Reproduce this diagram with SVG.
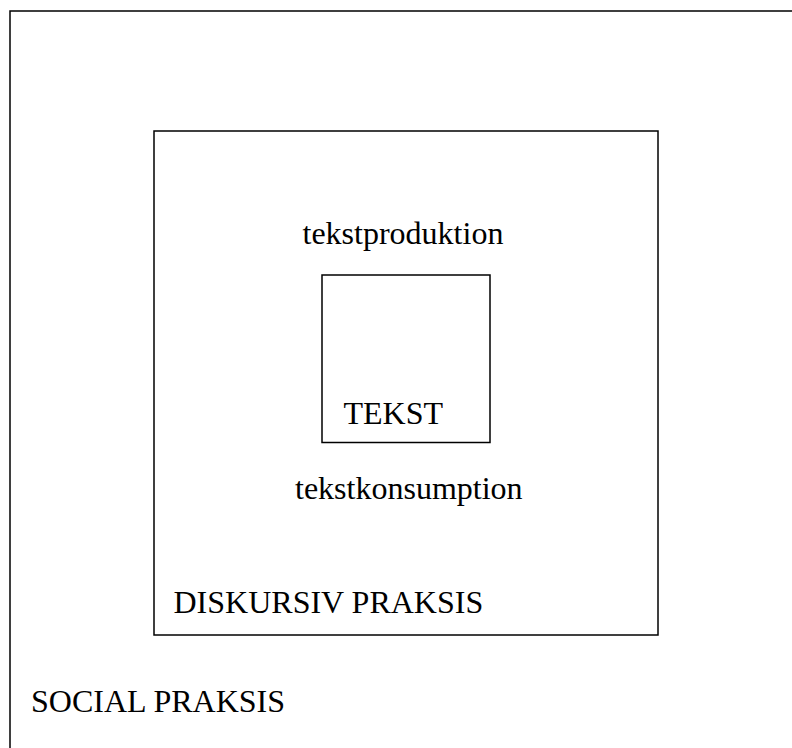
<svg xmlns="http://www.w3.org/2000/svg" width="792" height="748" viewBox="0 0 792 748">
<style>
.box{fill:none;stroke:#000;stroke-width:1.5}
.t{font-family:"Liberation Serif","Times New Roman",serif;font-size:32px;fill:#000}
</style>
<rect width="792" height="748" fill="#fff"/>
<g id="social-praksis">
<rect class="box" x="10" y="11" width="800" height="760"/>
<text class="t" x="31" y="712">SOCIAL PRAKSIS</text>
</g>
<g id="diskursiv-praksis">
<rect class="box" x="154" y="131" width="504" height="504"/>
<text class="t" x="173.5" y="612.5">DISKURSIV PRAKSIS</text>
<text class="t" x="302.5" y="243.5">tekstproduktion</text>
<text class="t" x="295" y="499">tekstkonsumption</text>
</g>
<g id="tekst">
<rect class="box" x="322" y="275" width="168" height="167.5"/>
<text class="t" x="343.5" y="424">TEKST</text>
</g>
<g id="connectors"></g>
</svg>
